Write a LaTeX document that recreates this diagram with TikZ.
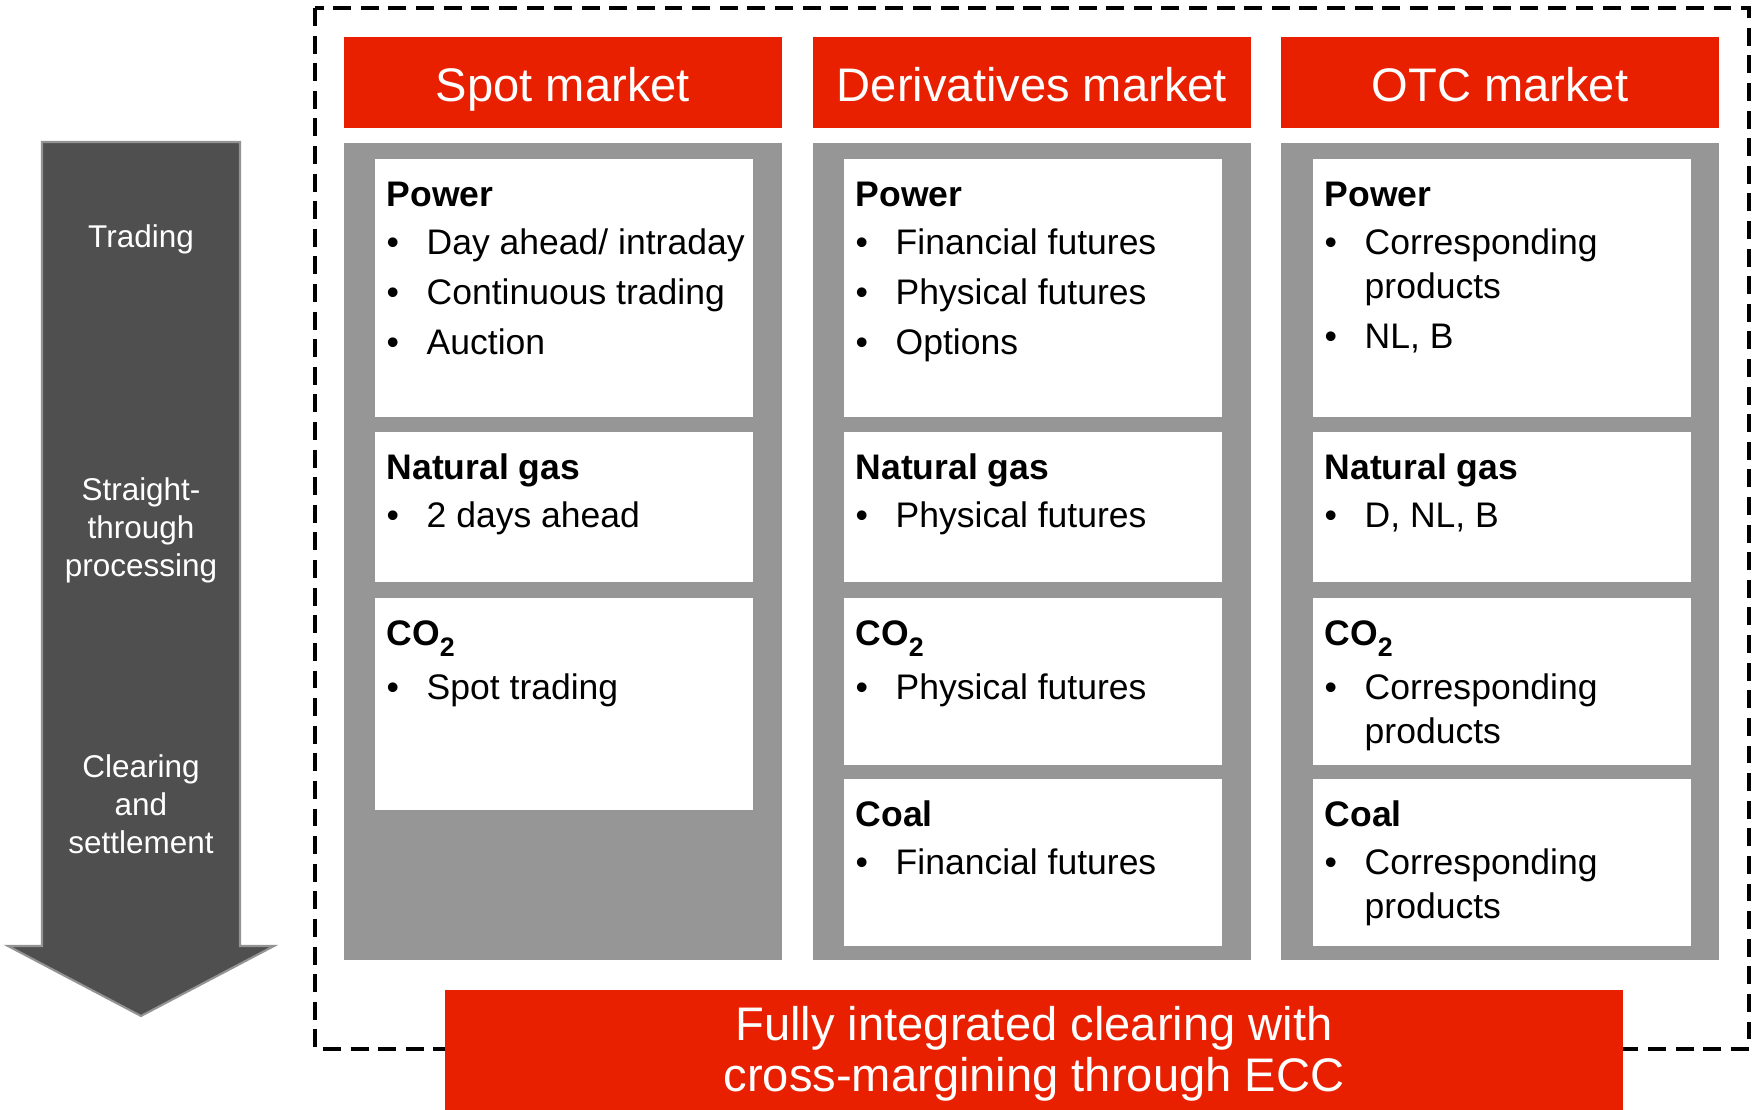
\documentclass[tikz,border=0pt]{standalone}
\usepackage{fontspec}
\setmainfont{Liberation Sans}

\definecolor{ecred}{RGB}{232,32,0}
\definecolor{panelgray}{RGB}{150,150,150}
\definecolor{arrowgray}{RGB}{79,79,79}

\tikzset{
    hdr/.style={fill=ecred, text=white, minimum width=4.38cm, minimum height=0.91cm,
        inner sep=0pt, text height=10.7pt, text depth=0pt,
        font=\fontsize{13.4}{14.65}\selectfont},
    panel/.style={fill=panelgray},
    cell/.style={fill=white, anchor=north west, minimum width=3.78cm, inner sep=0pt},
    celltxt/.style={anchor=base west, inner sep=0pt, font=\fontsize{10.1}{12.5}\selectfont},
    steplbl/.style={text=white, align=center, font=\fontsize{8.95}{10.8}\selectfont},
}

\newcommand{\hd}[1]{\multicolumn{2}{@{}l@{}}{\bfseries #1}}
\newcommand{\bu}{\textbullet}
\newcommand{\cotwo}{CO\raisebox{-0.3em}{\fontsize{7.6}{7.6}\selectfont 2}}
% 白いセル: 名前, x, y, 高さ, 中身
\newcommand{\cellbox}[5]{%
    \node[cell, minimum height=#4] (#1) at (#2,#3) {};
    \node[celltxt] (#1t) at ([shift={(12,49)}]#1.north west)
        {\begin{tabular}[t]{@{}p{0.4cm}@{}l@{}}#5\end{tabular}};
}

\begin{document}
\begin{tikzpicture}[x=0.01cm,y=-0.01cm]
    \useasboundingbox (0,0) rectangle (1756,1110);

    % 左の矢印
    \filldraw[fill=arrowgray, draw=gray!85, line width=0.6pt]
        (42,142) -- (240,142) -- (240,946) -- (274,946) -- (141,1016)
        -- (8,946) -- (42,946) -- cycle;
    \node[steplbl] (trading) at (141,239.5) {Trading};
    \node[steplbl] (stp) at (141,530.5) {Straight-\\through\\processing};
    \node[steplbl] (clearing) at (141,804) {Clearing\\and\\settlement};

    % 破線の枠
    \draw[dash pattern=on 5.1pt off 2.75pt, line width=1.2pt] (315,8) rectangle (1749,1049);

    % 市場ごとの見出しと灰色の背景
    \node[hdr] (spot) at (563,82.5) {Spot market};
    \node[hdr] (deriv) at (1032,82.5) {Derivatives market};
    \node[hdr] (otc) at (1500,82.5) {OTC market};
    \foreach \x in {344,813,1281} {
        \fill[panel] (\x,143) rectangle (\x+438,960);
    }

    % Spot market
    \cellbox{sp1}{374}{158}{2.58cm}{\hd{Power}\\[1.1pt]
        \bu & Day ahead/ intraday\\[1.7pt]
        \bu & Continuous trading\\[1.7pt]
        \bu & Auction}
    \cellbox{sp2}{374}{431}{1.50cm}{\hd{Natural gas}\\[1.1pt]
        \bu & 2 days ahead}
    \cellbox{sp3}{374}{597}{2.12cm}{\hd{\cotwo}\\[2.8pt]
        \bu & Spot trading}

    % Derivatives market
    \cellbox{de1}{843}{158}{2.58cm}{\hd{Power}\\[1.1pt]
        \bu & Financial futures\\[1.7pt]
        \bu & Physical futures\\[1.7pt]
        \bu & Options}
    \cellbox{de2}{843}{431}{1.50cm}{\hd{Natural gas}\\[1.1pt]
        \bu & Physical futures}
    \cellbox{de3}{843}{597}{1.67cm}{\hd{\cotwo}\\[2.8pt]
        \bu & Physical futures}
    \cellbox{de4}{843}{778}{1.67cm}{\hd{Coal}\\[1.1pt]
        \bu & Financial futures}

    % OTC market
    \cellbox{ot1}{1312}{158}{2.58cm}{\hd{Power}\\[1.1pt]
        \bu & Corresponding\\
            & products\\[1.7pt]
        \bu & NL, B}
    \cellbox{ot2}{1312}{431}{1.50cm}{\hd{Natural gas}\\[1.1pt]
        \bu & D, NL, B}
    \cellbox{ot3}{1312}{597}{1.67cm}{\hd{\cotwo}\\[2.8pt]
        \bu & Corresponding\\
            & products}
    \cellbox{ot4}{1312}{778}{1.67cm}{\hd{Coal}\\[1.1pt]
        \bu & Corresponding\\
            & products}

    % 下の帯
    \node[fill=ecred, text=white, minimum width=11.78cm, minimum height=1.28cm,
        inner sep=0pt, align=center, font=\fontsize{13.4}{14.65}\selectfont]
        (ecc) at (1034,1054) {Fully integrated clearing with\\cross-margining through ECC};
\end{tikzpicture}
\end{document}
